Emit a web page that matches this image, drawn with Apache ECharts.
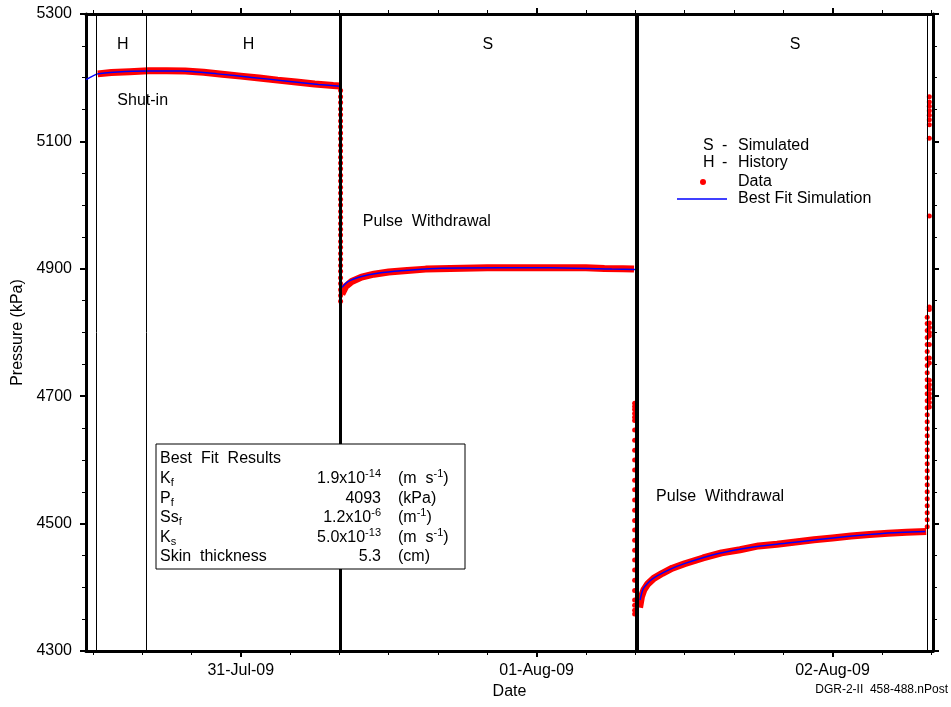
<!DOCTYPE html>
<html>
<head>
<meta charset="utf-8">
<script src="https://cdn.jsdelivr.net/npm/echarts@6/dist/echarts.min.js"></script>
<style>html,body{margin:0;padding:0;background:#fff}#chart{width:951px;height:707px}</style>
</head>
<body>
<div id="chart"></div>
<script>
// Time axis: hours relative to 31-Jul-09 00:00
const timeMin = -12.55;
const timeMax = 56.15;
const tickHours = [-12, -8, -4, 0, 4, 8, 12, 16, 20, 24, 28, 32, 36, 40, 44, 48, 52, 56];
const majorHours = [0, 24, 48];
const dateLabels = ['31-Jul-09', '01-Aug-09', '02-Aug-09'];
const pressureTicks = [4300, 4350, 4400, 4450, 4500, 4550, 4600, 4650, 4700, 4750, 4800, 4850, 4900, 4950, 5000, 5050, 5100, 5150, 5200, 5250, 5300];
const pressureLabels = [4300, 4500, 4700, 4900, 5100, 5300];

// Measured data (red)
const histT = [-11.6, -10.5, -9.0, -7.5, -6.0, -4.5, -3.0, -1.5, 0, 1.5, 3.0, 4.5, 6.0, 7.5, 8.04];
const histP = [5206, 5208, 5209.5, 5211, 5211, 5210.5, 5208.5, 5205.5, 5202.5, 5199.5, 5196.2, 5193.3, 5190.1, 5187.8, 5187];
const pulse1T = 8.1;
const pulse1P = [5180, 5170, 5161, 5151, 5142, 5132, 5123, 5113, 5104, 5094, 5085, 5075, 5066, 5057, 5047, 5038, 5028, 5019, 5009, 5000, 4990, 4981, 4971, 4962, 4953, 4943, 4934, 4924, 4915, 4905, 4896, 4886, 4877, 4867, 4858, 4849];
const rec1T = [8.2, 8.5, 9.0, 9.8, 10.8, 12.0, 13.5, 15.0, 17.0, 20.0, 24.0, 28.0, 29.5, 31.0, 31.9];
const rec1P = [4860, 4872, 4880, 4887, 4891.5, 4895, 4897.5, 4899.5, 4900.5, 4901.5, 4901.5, 4901.5, 4900.5, 4900, 4899.5];
const pulse2T = 31.95;
const pulse2P = [4689, 4684, 4679, 4673, 4667, 4662, 4647, 4631, 4615, 4600, 4584, 4568, 4553, 4537, 4521, 4505, 4490, 4474, 4458, 4443, 4427, 4411, 4395, 4380, 4372, 4364, 4358];
const rec2T = [32.35, 32.5, 32.7, 33.0, 33.5, 34.2, 35.0, 36.0, 37.5, 39.0, 40.5, 42.0, 43.5, 45.0, 46.5, 48.0, 49.5, 51.0, 52.5, 54.0, 55.6];
const rec2P = [4368, 4385, 4396, 4405, 4414, 4422, 4430, 4437, 4446, 4454, 4459, 4465, 4467.5, 4471, 4474.5, 4477.5, 4480.5, 4483, 4485, 4486.5, 4487.5];
const pulse3T = 55.68;
const pulse3P = [4495, 4506, 4517, 4528, 4539, 4550, 4561, 4572, 4583, 4594, 4605, 4616, 4627, 4638, 4649, 4660, 4671, 4682, 4693, 4704, 4715, 4726, 4737, 4748, 4759, 4770, 4781, 4792, 4803, 4814, 4824];
const lateT = 55.85;
const lateP = [4840, 4836, 4815, 4808, 4800, 4795, 4781, 4760, 4752, 4725, 4718, 4711, 4704, 4697, 4690, 4683, 4983, 5105, 5126, 5134, 5141, 5148, 5155, 5162, 5170];

// Best fit simulation (blue)
const sim1T = [-12.55, -11.6, -10.0, -7.6, -4.8, -1.9, 0.9, 3.6, 6.3, 8.04];
const sim1P = [5197, 5206, 5209, 5210.5, 5210.5, 5206, 5200.5, 5195, 5189.5, 5186.5];
const sim2T = [8.1, 8.7, 9.8, 11.1, 13.0, 15.8, 21.0, 25.1, 29.1, 30.1, 32.0];
const sim2P = [4869, 4880, 4888, 4893, 4897, 4900.5, 4901.5, 4901.5, 4900, 4899.5, 4899];
const sim3T = [32.39, 32.65, 33.34, 34.68, 36.04, 38.74, 41.45, 44.16, 46.86, 49.57, 52.27, 55.52];
const sim3P = [4380, 4398, 4412.5, 4427, 4437.5, 4453, 4463, 4469, 4475, 4480.5, 4485, 4487.5];

// Period boundaries (hours) and annotation texts
const eventTimes = [-11.69, -7.63, 8.04, 32.14, 55.68];
const eventWidths = [1, 1, 3, 4, 1];
const annoText = ['H', 'H', 'S', 'S', 'Shut-in', 'Pulse  Withdrawal', 'Pulse  Withdrawal'];
const annoT = [-9.56, 0.63, 20.05, 44.97, -7.95, 15.10, 38.88];
const annoP = [5252, 5252, 5252, 5252, 5164, 4974, 4542];

const FONT = "'Liberation Sans', Arial, Helvetica, sans-serif";
const zip = (ts, ps) => ts.map((t, i) => [t, ps[i]]);
const column = (t, ps) => ps.map(p => [t, p]);

const chart = echarts.init(document.getElementById('chart'), null, {renderer: 'canvas'});

function xAx(position, ticks, len, w, line, labels) {
  return {
    type: 'value', position: position, min: timeMin, max: timeMax,
    axisLine: {show: line, onZero: false, lineStyle: {color: '#000', width: 3}},
    axisTick: {show: true, inside: false, customValues: ticks, length: len, lineStyle: {color: '#000', width: w}},
    axisLabel: labels ? {show: true, customValues: majorHours, margin: 12, fontSize: 16, color: '#000', fontFamily: FONT,
      formatter: v => dateLabels[majorHours.indexOf(Math.round(v))] || ''} : {show: false},
    splitLine: {show: false},
    name: labels ? 'Date' : '', nameLocation: 'middle', nameGap: 32,
    nameTextStyle: {fontSize: 16, color: '#000', fontFamily: FONT}
  };
}
function yAx(position, ticks, len, w, line, labels) {
  return {
    type: 'value', position: position, min: 4300, max: 5300,
    axisLine: {show: line, onZero: false, lineStyle: {color: '#000', width: 3}},
    axisTick: {show: true, inside: false, customValues: ticks, length: len, lineStyle: {color: '#000', width: w}},
    axisLabel: labels ? {show: true, customValues: pressureLabels, margin: 14, fontSize: 16, color: '#000', fontFamily: FONT,
      formatter: v => String(Math.round(v))} : {show: false},
    splitLine: {show: false},
    name: labels ? 'Pressure (kPa)' : '', nameLocation: 'middle', nameGap: 54, nameRotate: 90,
    nameTextStyle: {fontSize: 16, color: '#000', fontFamily: FONT}
  };
}

const redLine = (d) => ({
  name: 'Data', type: 'line', data: d, showSymbol: false, symbol: 'none', z: 2,
  itemStyle: {color: '#ff0000'}, lineStyle: {color: '#ff0000', width: 7}, silent: true
});
const redDots = (d) => ({
  name: 'Data', type: 'scatter', data: d, symbol: 'circle', symbolSize: 5, z: 3,
  itemStyle: {color: '#ff0000', opacity: 1}, silent: true
});
const blueLine = (d) => ({
  name: 'Best Fit Simulation', type: 'line', data: d, showSymbol: false, symbol: 'none', z: 4, smooth: 0.2,
  itemStyle: {color: '#0000ff'}, lineStyle: {color: '#0000ff', width: 1.5}, silent: true
});

const boxX = 156, boxY = 444, boxW = 309, boxH = 125;
const rowY = [459, 478.6, 498.2, 517.8, 537.4, 557];
const rich = {
  sup: {fontSize: 11, verticalAlign: 'top', lineHeight: 11, fontFamily: FONT, fill: '#000'},
  sub: {fontSize: 11, verticalAlign: 'bottom', lineHeight: 11, fontFamily: FONT, fill: '#000'}
};
const boxLabels = ['Best  Fit  Results', 'K{sub|f}', 'P{sub|f}', 'Ss{sub|f}', 'K{sub|s}', 'Skin  thickness'];
const boxValues = ['', '1.9x10{sup|-14}', '4093', '1.2x10{sup|-6}', '5.0x10{sup|-13}', '5.3'];
const boxUnits = ['', '(m  s{sup|-1})', '(kPa)', '(m{sup|-1})', '(m  s{sup|-1})', '(cm)'];

function txt(x, y, text, align, size) {
  return {type: 'text', x: x, y: y, z: 101,
    style: {text: text, fontSize: size || 16, fontFamily: FONT, fill: '#000', align: align || 'left',
      verticalAlign: 'middle', lineHeight: 20, rich: rich}};
}
const graphics = [{type: 'rect', z: 100, shape: {x: boxX, y: boxY, width: boxW, height: boxH},
  style: {fill: '#fff', stroke: '#000', lineWidth: 1}}];
rowY.forEach((y, i) => {
  graphics.push(txt(160, y, boxLabels[i], 'left'));
  if (boxValues[i]) graphics.push(txt(381, y, boxValues[i], 'right'));
  if (boxUnits[i]) graphics.push(txt(398, y, boxUnits[i], 'left'));
});
graphics.push(txt(703, 146, 'S', 'left'), txt(722, 146, '-', 'left'), txt(738, 146, 'Simulated', 'left'));
graphics.push(txt(703, 163, 'H', 'left'), txt(722, 163, '-', 'left'), txt(738, 163, 'History', 'left'));
graphics.push(txt(948, 690, 'DGR-2-II  458-488.nPost', 'right', 12));

const option = {
  animation: false,
  backgroundColor: '#fff',
  textStyle: {fontFamily: FONT},
  grid: {left: 86, right: 18, top: 14, bottom: 56, containLabel: false, outerBoundsMode: 'none'},
  legend: [
    {data: [{name: 'Data', icon: 'circle'}], left: 700, top: 174, padding: 0, itemWidth: 6, itemHeight: 6,
      selectedMode: false, textStyle: {fontSize: 16, color: '#000', fontFamily: FONT, lineHeight: 16, padding: [0, 0, 0, 27]}},
    {data: [{name: 'Best Fit Simulation', icon: 'rect'}], left: 677, top: 191, padding: 0, itemWidth: 50, itemHeight: 1.5,
      selectedMode: false, itemStyle: {color: '#0000ff'},
      textStyle: {fontSize: 16, color: '#000', fontFamily: FONT, lineHeight: 16, padding: [0, 0, 0, 6]}}
  ],
  xAxis: [
    xAx('bottom', tickHours, 4, 1, true, true),
    xAx('bottom', majorHours, 6, 2, false, false),
    xAx('top', tickHours, 4, 1, true, false),
    xAx('top', majorHours, 6, 2, false, false)
  ],
  yAxis: [
    yAx('left', pressureTicks, 4, 1, true, true),
    yAx('left', pressureLabels, 6, 2, false, false),
    yAx('right', pressureTicks, 4, 1, true, false),
    yAx('right', pressureLabels, 6, 2, false, false)
  ],
  series: [
    redLine(zip(histT, histP)),
    redLine(zip(rec1T, rec1P)),
    redLine(zip(rec2T, rec2P)),
    redDots(column(pulse1T, pulse1P)
      .concat(column(pulse2T, pulse2P))
      .concat(column(pulse3T, pulse3P))
      .concat(column(lateT, lateP))),
    blueLine(zip(sim1T, sim1P)),
    blueLine(zip(sim2T, sim2P)),
    blueLine(zip(sim3T, sim3P)),
    {
      name: 'annotations', type: 'scatter', z: 5, silent: true, symbolSize: 0,
      itemStyle: {color: '#000'},
      data: annoText.map((s, i) => ({name: s, value: [annoT[i], annoP[i]]})),
      label: {show: true, position: 'inside', formatter: '{b}', fontSize: 16, color: '#000', opacity: 1,
        textBorderWidth: 0, fontFamily: FONT},
      markLine: {
        silent: true, symbol: ['none', 'none'], label: {show: false}, animation: false,
        data: eventTimes.map((t, i) => ({xAxis: t, lineStyle: {color: '#000', width: eventWidths[i], type: 'solid'}}))
      }
    }
  ],
  graphic: graphics
};
chart.setOption(option);
</script>
</body>
</html>
